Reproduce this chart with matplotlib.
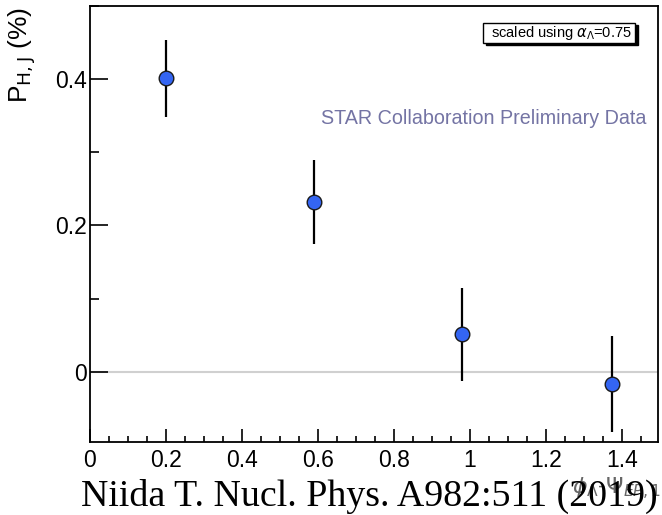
import numpy as np
import matplotlib
matplotlib.use("Agg")
import matplotlib.pyplot as plt
from matplotlib.patches import Rectangle
from matplotlib.ticker import MultipleLocator

# data
phi_bins = [0.2, 0.59, 0.98, 1.375]
p_hj = [0.401, 0.232, 0.051, -0.017]
p_err = [0.053, 0.057, 0.064, 0.066]

plt.rcParams['font.family'] = ['Liberation Sans', 'DejaVu Sans']

fig = plt.figure(figsize=(6.62, 5.15), dpi=100)
ax = fig.add_axes([90 / 662, 1 - 442 / 515, 568 / 662, 436 / 515])

ax.axhline(0, color='#d0d0d0', lw=1.5, zorder=1)
ax.errorbar(phi_bins, p_hj, yerr=p_err, fmt='o', color='black', ecolor='black',
            elinewidth=1.6, capsize=0, markersize=10.5,
            markerfacecolor='#3465f2', markeredgecolor='#1a1a1a',
            markeredgewidth=1.0, zorder=3)

ax.set_xlim(0, 1.495)
ax.set_ylim(-0.096, 0.5)
ax.xaxis.set_major_locator(MultipleLocator(0.2))
ax.xaxis.set_minor_locator(MultipleLocator(0.05))
ax.yaxis.set_major_locator(MultipleLocator(0.2))
ax.yaxis.set_minor_locator(MultipleLocator(0.1))
ax.xaxis.set_major_formatter(plt.FuncFormatter(lambda v, p: f"{v:g}"))
ax.yaxis.set_major_formatter(plt.FuncFormatter(lambda v, p: f"{v:g}"))
ax.tick_params(which='both', direction='in', top=False, right=False,
               labelsize=16.5, width=1.2)
ax.tick_params(axis='x', which='major', length=9.5, pad=5)
ax.tick_params(axis='x', which='minor', length=4.5)
ax.tick_params(axis='y', which='major', length=13, pad=2)
ax.tick_params(axis='y', which='minor', length=6.5)
for s in ax.spines.values():
    s.set_linewidth(1.3)

fig.text(22 / 662, 1 - 7 / 515, r"P$_{\mathrm{H,J}}$ (%)", rotation=90,
         ha='center', va='top', fontsize=19)

ax.text(0.979, 0.743, "STAR Collaboration Preliminary Data", transform=ax.transAxes,
        ha='right', va='center', fontsize=14.2, color='#7474a4')

# legend-like box with shadow
fig.add_artist(Rectangle((486 / 662, 1 - 45 / 515), 152 / 662, 20 / 515,
                         transform=fig.transFigure, fc='black', ec='black', zorder=5))
fig.add_artist(Rectangle((483 / 662, 1 - 43 / 515), 152 / 662, 20 / 515,
                         transform=fig.transFigure, fc='white', ec='black', lw=1,
                         zorder=6))
fig.text(561 / 662, 1 - 33 / 515, r"scaled using $\alpha_{\Lambda}$=0.75",
         ha='center', va='center', fontsize=10.5, zorder=7)

# axis title, mostly hidden under the citation in the reference
fig.text(661 / 662, 1 - 489 / 515, r"$\phi_{\Lambda}$-$\Psi_{EP,1}$",
         fontsize=16, color='#666666', ha='right', va='center', zorder=1)
fig.text(81 / 662, 1 - 506 / 515, "Niida T. Nucl. Phys. A982:511 (2019)",
         family='Liberation Serif', fontsize=27.3, ha='left', va='baseline',
         zorder=2)

fig.savefig("out.png", dpi=100)
